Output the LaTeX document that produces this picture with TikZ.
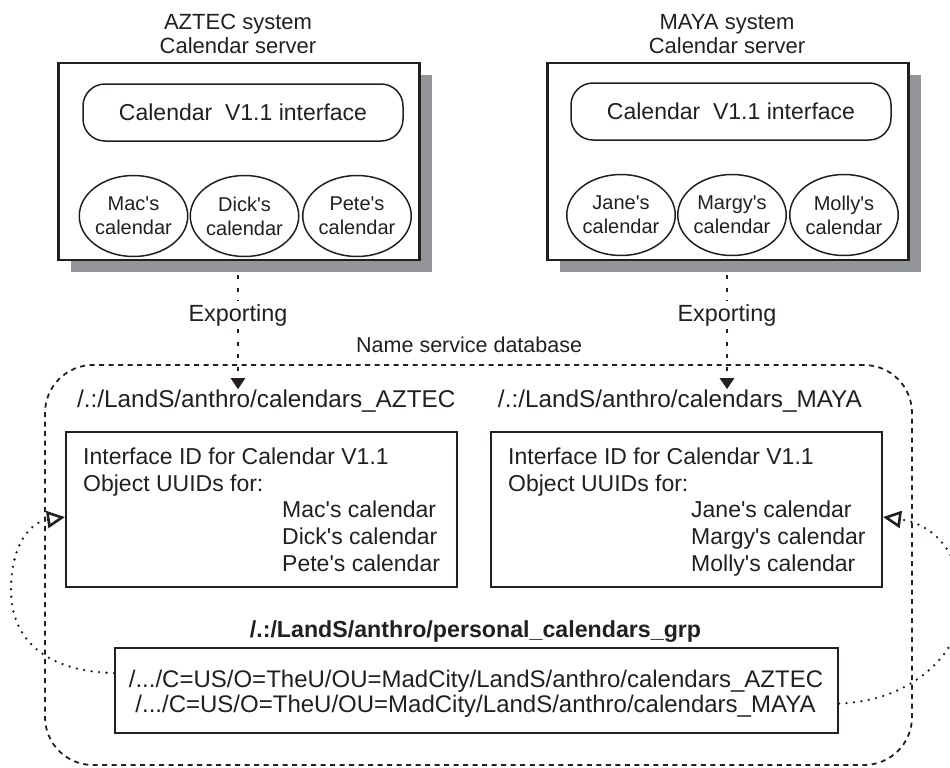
\documentclass[tikz,border=0pt]{standalone}
\usepackage{fontspec}
\setmainfont{Liberation Sans}
\usetikzlibrary{shapes.geometric,arrows.meta,shadows,calc}
\definecolor{ink}{HTML}{231F20}
\definecolor{shadowgray}{HTML}{939598}
\newcommand\q{\textquotesingle}
\begin{document}
\begin{tikzpicture}[x=1pt,y=-1pt,
  lbl/.style={inner sep=0pt,text=ink},
  fs/.style 2 args={font=\fontsize{#1}{#2}\selectfont},
  region/.style={draw=ink,line width=1.8pt,dash pattern=on 5pt off 4.5pt,rounded corners=48pt,
    minimum width=867pt,minimum height=400pt,inner sep=0pt},
  server/.style={draw=ink,line width=2.4pt,fill=white,minimum width=361pt,minimum height=197pt,inner sep=0pt,
    drop shadow={shadow xshift=12pt,shadow yshift=-12pt,fill=shadowgray,opacity=1}},
  iface/.style={draw=ink,line width=1.5pt,rounded corners=22pt,minimum width=320pt,minimum height=57pt,
    inner sep=0pt,text=ink,fs={23}{27}},
  cal/.style={ellipse,draw=ink,line width=1.5pt,minimum width=102pt,minimum height=81pt,inner sep=0pt,
    align=center,text=ink,fs={20}{24}},
  nsbox/.style={draw=ink,line width=2pt,minimum width=391pt,minimum height=155pt,inner sep=0pt},
  grpbox/.style={draw=ink,line width=2pt,minimum width=723pt,minimum height=85pt,inner sep=0pt},
  expline/.style={draw=ink,line width=2.2pt,dash pattern=on 4pt off 8.5pt},
  exptip/.style={-{Triangle[length=11pt,width=14pt]}},
  loopline/.style={draw=ink,line width=2.6pt,line cap=round,dash pattern=on 0pt off 7.5pt,shorten >=17pt},
  looptip/.style={draw=ink,solid,line width=2.6pt,line join=miter,-{Triangle[open,length=18pt,width=17pt]}},
]
\useasboundingbox (0,0) rectangle (950,768);

% name service region
\node[region] (nsdb) at (478.5,565) {};

% server boxes
\node[server] (azsrv) at (239,161.5) {};
\node[server] (mysrv) at (728,161.5) {};

\node[lbl,fs={22}{26},anchor=base] (aztitle1) at (238,30) {AZTEC system};
\node[lbl,fs={22}{26},anchor=base] (aztitle2) at (238,53) {Calendar server};
\node[lbl,fs={22}{26},anchor=base] (mytitle1) at (727,30) {MAYA system};
\node[lbl,fs={22}{26},anchor=base] (mytitle2) at (727,53) {Calendar server};

\node[iface] (azif) at (243,112.5) {Calendar\ \ V1.1 interface};
\node[iface] (myif) at (731,111.5) {Calendar\ \ V1.1 interface};

\node[cal] (mac) at (133.5,216) {Mac\q s\\calendar};
\node[cal] (dick) at (244.5,216) {Dick\q s\\calendar};
\node[cal] (pete) at (357,216) {Pete\q s\\calendar};
\node[cal] (jane) at (621,215) {Jane\q s\\calendar};
\node[cal] (margy) at (732,215) {Margy\q s\\calendar};
\node[cal] (molly) at (844,215) {Molly\q s\\calendar};

% exporting labels
\node[lbl,fs={23.4}{27},anchor=base,fill=white,inner ysep=3pt] (expA) at (238,321) {Exporting};
\node[lbl,fs={23.4}{27},anchor=base,fill=white,inner ysep=3pt] (expM) at (727,321) {Exporting};

\node[lbl,fs={21.5}{26},anchor=base west] (nslabel) at (356,352) {Name service database};

% entry names
\node[lbl,fs={24.3}{28},anchor=base west] (azpath) at (77,407) {/.:/LandS/anthro/calendars\_AZTEC};
\node[lbl,fs={24.3}{28},anchor=base east] (mypath) at (862,407) {/.:/LandS/anthro/calendars\_MAYA};

% entry boxes
\node[nsbox] (azns) at (261.5,509.5) {};
\node[nsbox] (myns) at (686.5,509.5) {};

\node[lbl,fs={23}{27},anchor=base west] (azl1) at (83,464) {Interface ID for Calendar V1.1};
\node[lbl,fs={23}{27},anchor=base west] (azl2) at (83,491) {Object UUIDs for:};
\node[lbl,fs={23}{27},anchor=base west] (azl3) at (282,517.5) {Mac\q s calendar};
\node[lbl,fs={23}{27},anchor=base west] (azl4) at (282,544) {Dick\q s calendar};
\node[lbl,fs={23}{27},anchor=base west] (azl5) at (282,571) {Pete\q s calendar};

\node[lbl,fs={23}{27},anchor=base west] (myl1) at (508,464) {Interface ID for Calendar V1.1};
\node[lbl,fs={23}{27},anchor=base west] (myl2) at (508,491) {Object UUIDs for:};
\node[lbl,fs={23}{27},anchor=base west] (myl3) at (691,517.5) {Jane\q s calendar};
\node[lbl,fs={23}{27},anchor=base west] (myl4) at (691,544) {Margy\q s calendar};
\node[lbl,fs={23}{27},anchor=base west] (myl5) at (691,571) {Molly\q s calendar};

% group entry
\node[lbl,fs={23.2}{27},anchor=base] (grptitle) at (475.5,637) {\bfseries /.:/LandS/anthro/personal\_calendars\_grp};
\node[grpbox] (grp) at (476.5,690.5) {};
\node[lbl,fs={24}{28},anchor=base] (grpl1) at (476,687) {/.../C=US/O=TheU/OU=MadCity/LandS/anthro/calendars\_AZTEC};
\node[lbl,fs={24}{28},anchor=base] (grpl2) at (475.5,712) {/.../C=US/O=TheU/OU=MadCity/LandS/anthro/calendars\_MAYA};

% exporting connectors
\coordinate (ea1) at ([yshift=-14pt]azsrv.south -| expA);
\coordinate (ma1) at ([yshift=-14pt]mysrv.south -| expM);
\draw[expline] (ea1) -- (expA.north);
\draw[expline,exptip] (expA.south) -- (expA |- azpath.north);
\draw[expline] (ma1) -- (expM.north);
\draw[expline,exptip] (expM.south) -- (expM |- mypath.north);

% group member links
\coordinate (gL) at ($(grp.north west)!0.3!(grp.south west)$);
\coordinate (gR) at ($(grp.north east)!0.65!(grp.south east)$);
\coordinate (aL) at ($(azns.north west)!0.548!(azns.south west)$);
\coordinate (mR) at ($(myns.north east)!0.548!(myns.south east)$);
\draw[loopline] (gL) .. controls (40,671) and (11,635) .. (11,590) .. controls (11,545) and (30,522) .. (aL);
\draw[looptip] ($(aL)+(-17.8,2.5)$) -- (aL);
\draw[loopline] (gR) .. controls (915,701) and (962,650) .. (962,605) .. controls (962,555) and (935,524) .. (mR);
\draw[looptip] ($(mR)+(17.8,2.4)$) -- (mR);
\end{tikzpicture}
\end{document}
